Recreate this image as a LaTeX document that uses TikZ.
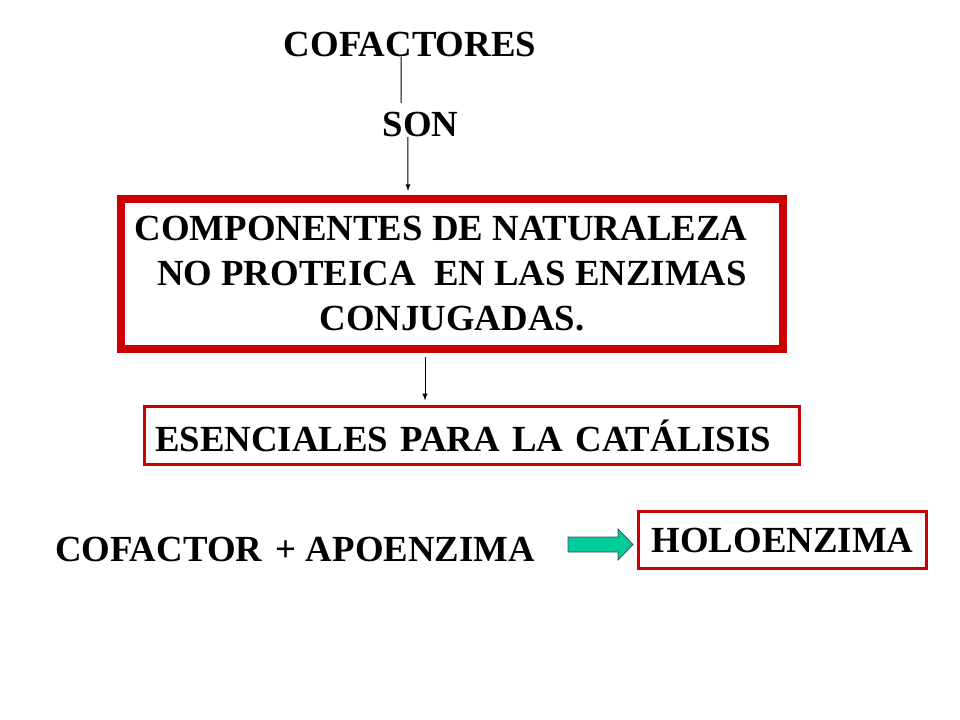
\documentclass[tikz,border=0pt]{standalone}
\usepackage{fontspec}
\setmainfont{Liberation Serif}
\usepackage{tikz}
\definecolor{boxred}{RGB}{204,0,0}
\definecolor{arrgreen}{RGB}{0,204,153}

\begin{document}
\begin{tikzpicture}[x=0.75pt, y=-0.75pt, font=\fontsize{27.6}{33.75}\selectfont\bfseries, txt/.style = {inner sep=0pt}, redbox/.style = {draw=boxred, line width=2.25pt, inner sep=0pt}, bigbox/.style = {draw=boxred, line width=6pt, inner sep=0pt, align=center}, con/.style = {line width=0.75pt}]
                \useasboundingbox (0,0) rectangle (960,720);
                \node[txt] (cof) at (410,44.5) {COFACTORES};
                \node[txt] (son) at (420.5,124.5) {SON};
                \node[bigbox, minimum width=496.5pt, minimum height=112.5pt] (comp) at (452,274) {COMPONENTES DE NATURALEZA\hspace*{16.5pt}\\NO PROTEICA~ EN LAS ENZIMAS\hspace*{9pt}\\CONJUGADAS.};
                \node[redbox, minimum width=491pt, minimum height=43.5pt, text width=475.5pt, align=left] (esen) at (472,435.5) {ESENCIALES PARA LA CATÁLISIS};
                \node[txt] (apo) at (295,549) {COFACTOR\hspace{0.12em} + APOENZIMA};
                \node[redbox, minimum width=216pt, minimum height=42.75pt] (holo) at (782.5,540) {HOLOENZIMA};
                \draw[con] ([xshift=-6.75pt]cof.south) -- ([xshift=-14.6pt, yshift=6.75pt]son.north);
                \draw[con, -latex, shorten >=3pt] ([xshift=-9.4pt]son.south) -- ([xshift=-33pt]comp.north);
                \draw[con, -latex, shorten <=3pt, shorten >=3.4pt] ([xshift=-20.25pt]comp.south) -- ([xshift=-35.25pt]esen.north);
                \draw[fill=arrgreen, draw=black!70, line width=0.6pt] (568,537) -- (618,537) -- (618,529) -- (633,544.5) -- (618,560) -- (618,552) -- (568,552) -- cycle;
            \end{tikzpicture}
\end{document}
